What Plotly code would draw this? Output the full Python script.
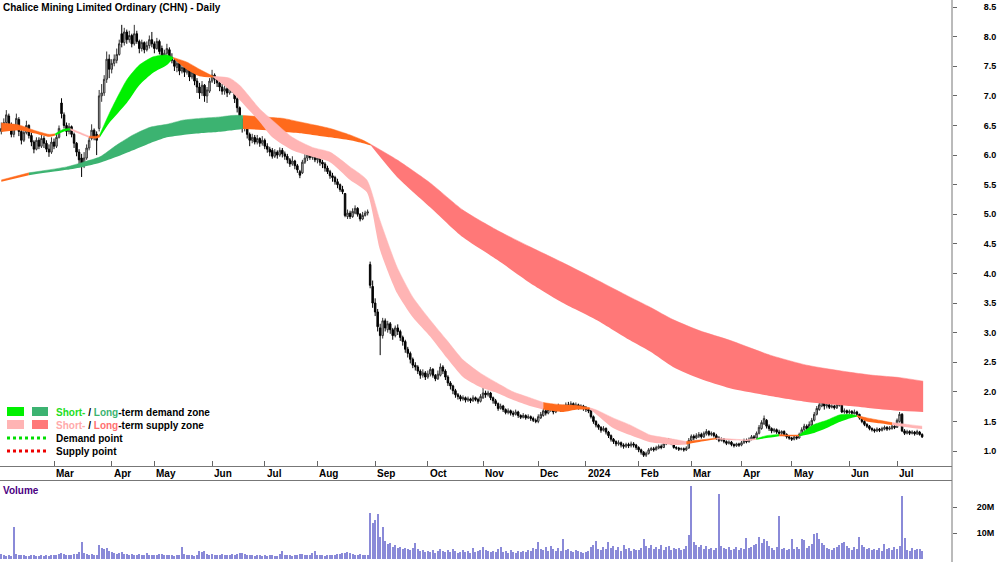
import numpy as np
import pandas as pd
import plotly.graph_objects as go

# ---------------- calendar (ASX trading sessions) ----------------
HOLIDAYS = ["2023-04-07", "2023-04-10", "2023-04-25", "2023-06-12", "2023-12-25",
            "2023-12-26", "2024-01-01", "2024-01-26", "2024-03-29", "2024-04-01",
            "2024-04-25", "2024-06-10"]
SESSIONS = pd.bdate_range("2023-01-31", "2024-07-15", freq="C", holidays=HOLIDAYS)

# ---------------- daily prices (A$) ----------------
OPEN = [
    6.40,6.45,6.55,6.66,6.50,6.35,6.48,6.60,6.40,6.25,6.38,6.50,6.33,6.22,6.10,6.25,6.15,6.28,6.20,6.10,6.05,
    6.22,6.15,6.30,6.88,6.68,6.50,6.40,6.48,6.35,6.20,6.05,5.95,5.82,5.95,6.12,6.28,6.42,6.35,6.45,7.00,7.05,7.28,7.62,
    7.45,7.55,7.60,7.70,8.05,7.90,8.08,7.95,8.02,7.88,8.05,7.92,7.80,7.90,7.78,7.85,7.95,
    7.88,7.80,7.92,7.80,7.62,7.72,7.78,7.65,7.60,7.48,7.55,7.42,7.48,7.40,7.45,7.32,7.40,7.25,7.15,7.05,7.18,7.00,7.08,
    7.25,7.35,7.28,7.22,7.15,7.08,7.12,7.05,7.18,7.10,6.95,6.80,6.60,6.45,6.52,6.35,6.25,6.30,6.22,6.28,6.20,
    6.25,6.15,6.10,6.08,5.98,6.05,6.00,6.08,6.02,5.98,5.92,5.85,5.90,5.82,5.72,5.70,5.88,5.95,6.00,5.96,6.02,
    5.92,5.95,5.88,5.85,5.78,5.72,5.65,5.62,5.55,5.50,5.42,5.35,4.96,5.02,4.96,5.02,5.10,5.00,4.92,4.98,5.02,4.15,3.78,
    3.50,3.35,3.08,2.95,3.20,3.05,3.15,3.05,2.95,3.08,3.02,2.92,2.85,2.72,2.65,2.55,2.45,2.42,2.35,2.28,2.32,
    2.25,2.30,2.38,2.28,2.22,2.28,2.42,2.35,2.25,2.15,2.10,2.02,1.95,1.92,1.88,1.90,1.86,1.88,1.85,1.90,1.87,1.84,
    1.90,1.98,1.95,1.98,1.90,1.85,1.80,1.72,1.76,1.70,1.65,1.68,1.64,1.62,1.66,1.60,1.57,1.60,1.56,1.58,1.55,1.52,
    1.50,1.56,1.60,1.68,1.64,1.70,1.74,1.66,1.72,1.75,1.70,1.74,1.78,1.76,1.80,1.75,1.78,1.74,1.76,
    1.72,1.70,1.68,1.58,1.50,1.44,1.40,1.35,1.38,1.32,1.26,1.20,1.16,1.12,1.14,1.10,1.08,1.11,1.09,1.12,1.10,
    1.06,1.02,0.98,0.93,0.96,1.02,1.04,1.02,1.05,1.08,1.06,1.12,1.14,1.18,1.17,1.06,1.05,1.03,1.04,1.02,1.05,
    1.18,1.25,1.22,1.25,1.28,1.24,1.29,1.33,1.28,1.30,1.26,1.22,1.18,1.20,1.16,1.13,1.15,1.11,1.09,1.12,
    1.10,1.14,1.18,1.16,1.20,1.24,1.22,1.30,1.38,1.46,1.52,1.42,1.38,1.34,1.36,1.32,1.30,1.33,1.28,1.24,
    1.22,1.20,1.24,1.22,1.28,1.36,1.42,1.38,1.44,1.52,1.62,1.70,1.76,1.85,1.76,1.78,1.74,1.76,1.73,1.77,1.80,1.66,1.68,
    1.65,1.67,1.63,1.66,1.62,1.56,1.50,1.45,1.42,1.38,1.36,1.34,1.37,1.35,1.37,1.40,1.37,1.38,1.42,
    1.40,1.50,1.62,1.34,1.30,1.33,1.30,1.32,1.29,1.32,1.28,
]
HIGH = [
    6.55,6.62,6.76,6.70,6.55,6.52,6.70,6.64,6.45,6.45,6.58,6.52,6.38,6.25,6.30,6.30,6.35,6.32,6.25,6.18,6.30,
    6.28,6.35,6.50,6.96,6.72,6.55,6.54,6.50,6.38,6.22,6.10,6.02,6.05,6.18,6.30,6.52,6.45,6.40,7.10,7.20,7.35,7.75,7.70,
    7.62,7.70,7.80,7.95,8.20,8.15,8.12,8.10,8.05,8.20,8.10,7.95,7.95,7.92,7.92,8.02,8.08,
    7.92,7.98,7.95,7.85,7.78,7.88,7.82,7.72,7.64,7.62,7.58,7.55,7.52,7.52,7.48,7.50,7.42,7.30,7.22,7.25,7.20,7.15,7.30,
    7.44,7.38,7.32,7.25,7.20,7.18,7.15,7.25,7.25,7.12,6.98,6.82,6.62,6.60,6.55,6.38,6.36,6.34,6.34,6.30,6.32,
    6.28,6.20,6.14,6.12,6.10,6.08,6.13,6.12,6.06,6.02,5.95,5.98,5.92,5.85,5.75,5.92,6.02,6.05,6.08,6.06,6.04,
    6.00,5.98,5.92,5.88,5.82,5.75,5.70,5.65,5.60,5.52,5.48,5.36,5.08,5.06,5.10,5.15,5.12,5.02,5.04,5.06,5.08,4.20,3.88,
    3.58,3.40,3.15,3.25,3.24,3.20,3.18,3.08,3.12,3.14,3.05,2.95,2.88,2.76,2.68,2.58,2.50,2.45,2.38,2.38,2.35,
    2.36,2.42,2.40,2.30,2.36,2.48,2.45,2.38,2.28,2.18,2.12,2.05,1.98,1.95,1.94,1.92,1.92,1.90,1.94,1.92,1.90,1.96,
    2.08,2.02,2.02,2.00,1.92,1.88,1.82,1.80,1.78,1.72,1.72,1.70,1.68,1.70,1.68,1.62,1.64,1.62,1.62,1.60,1.58,1.55,
    1.62,1.66,1.72,1.72,1.74,1.78,1.76,1.76,1.80,1.78,1.78,1.82,1.83,1.84,1.82,1.82,1.80,1.79,1.78,
    1.76,1.73,1.70,1.60,1.52,1.46,1.42,1.42,1.40,1.34,1.28,1.22,1.18,1.18,1.16,1.13,1.14,1.14,1.16,1.15,1.12,
    1.08,1.04,1.00,0.99,1.05,1.07,1.07,1.09,1.11,1.11,1.15,1.19,1.22,1.20,1.19,1.08,1.07,1.06,1.06,1.08,1.22,
    1.28,1.28,1.30,1.32,1.31,1.33,1.37,1.35,1.33,1.32,1.29,1.25,1.23,1.22,1.18,1.18,1.17,1.13,1.14,1.14,
    1.17,1.21,1.21,1.23,1.27,1.27,1.33,1.44,1.52,1.60,1.54,1.45,1.40,1.39,1.38,1.36,1.35,1.35,1.30,1.27,
    1.24,1.27,1.26,1.31,1.40,1.46,1.45,1.50,1.56,1.66,1.76,1.82,1.95,1.88,1.82,1.80,1.79,1.78,1.82,1.90,1.82,1.72,1.70,
    1.70,1.69,1.70,1.68,1.63,1.57,1.52,1.47,1.44,1.40,1.38,1.40,1.39,1.41,1.43,1.42,1.42,1.45,1.44,
    1.55,1.66,1.64,1.37,1.36,1.35,1.35,1.34,1.36,1.34,1.30,
]
LOW = [
    6.35,6.42,6.50,6.45,6.30,6.30,6.45,6.32,6.18,6.22,6.35,6.28,6.15,6.03,6.08,6.10,6.12,6.12,6.05,5.97,6.02,
    6.10,6.12,6.28,6.62,6.45,6.32,6.35,6.30,6.12,5.98,5.85,5.63,5.78,5.92,6.08,6.25,6.25,6.00,6.40,6.90,7.00,7.22,7.30,
    7.38,7.50,7.55,7.68,7.82,7.85,7.88,7.90,7.82,7.85,7.88,7.72,7.75,7.72,7.75,7.80,7.82,
    7.72,7.78,7.70,7.58,7.58,7.68,7.60,7.55,7.42,7.40,7.35,7.38,7.32,7.36,7.25,7.28,7.18,7.05,6.95,7.00,6.90,6.88,7.05,
    7.22,7.20,7.15,7.08,7.02,7.02,6.98,7.02,7.05,6.88,6.72,6.52,6.38,6.40,6.28,6.15,6.20,6.18,6.18,6.14,6.16,
    6.10,6.04,5.98,5.94,5.95,5.94,5.97,5.96,5.92,5.86,5.80,5.82,5.76,5.70,5.61,5.68,5.85,5.90,5.92,5.92,5.88,
    5.86,5.82,5.78,5.72,5.68,5.60,5.55,5.50,5.44,5.38,5.34,4.95,4.92,4.92,4.94,5.00,4.96,4.88,4.90,4.96,4.98,3.75,3.42,
    3.28,3.02,2.62,2.90,3.02,3.00,2.98,2.88,2.92,2.96,2.86,2.78,2.66,2.58,2.48,2.40,2.36,2.30,2.22,2.24,2.20,
    2.22,2.26,2.24,2.18,2.20,2.26,2.30,2.20,2.10,2.04,1.96,1.90,1.87,1.84,1.85,1.82,1.83,1.81,1.83,1.84,1.80,1.82,
    1.88,1.90,1.92,1.86,1.80,1.76,1.68,1.70,1.66,1.62,1.62,1.60,1.58,1.60,1.56,1.54,1.55,1.53,1.54,1.51,1.49,1.47,
    1.47,1.54,1.58,1.60,1.62,1.66,1.62,1.64,1.70,1.66,1.68,1.72,1.72,1.74,1.70,1.73,1.70,1.72,1.68,
    1.66,1.64,1.55,1.46,1.40,1.36,1.31,1.33,1.28,1.22,1.16,1.12,1.08,1.09,1.06,1.04,1.05,1.05,1.06,1.06,1.02,
    0.98,0.94,0.90,0.90,0.94,1.00,0.99,1.01,1.03,1.03,1.05,1.10,1.12,1.10,1.04,1.02,1.00,1.01,0.99,1.00,1.04,
    1.15,1.18,1.20,1.22,1.21,1.22,1.26,1.25,1.25,1.23,1.19,1.15,1.16,1.13,1.10,1.11,1.08,1.06,1.07,1.07,
    1.08,1.12,1.13,1.14,1.18,1.19,1.20,1.28,1.36,1.44,1.38,1.34,1.30,1.31,1.29,1.26,1.27,1.25,1.21,1.19,
    1.17,1.18,1.19,1.21,1.26,1.33,1.35,1.36,1.42,1.50,1.60,1.68,1.74,1.70,1.72,1.71,1.72,1.70,1.71,1.75,1.64,1.63,1.62,
    1.62,1.61,1.62,1.59,1.53,1.47,1.42,1.39,1.35,1.33,1.31,1.32,1.32,1.33,1.35,1.34,1.35,1.36,1.37,
    1.39,1.48,1.32,1.27,1.28,1.27,1.28,1.26,1.27,1.26,1.22,
]
CLOSE = [
    6.45,6.55,6.68,6.50,6.35,6.48,6.62,6.40,6.25,6.38,6.50,6.33,6.22,6.10,6.25,6.15,6.28,6.20,6.10,6.05,6.22,
    6.15,6.30,6.45,6.70,6.50,6.40,6.48,6.35,6.20,6.05,5.92,5.82,5.95,6.12,6.25,6.42,6.30,6.25,7.00,7.05,7.28,7.62,7.45,
    7.55,7.62,7.70,7.88,7.90,8.08,7.95,8.02,7.88,8.05,7.92,7.80,7.90,7.78,7.85,7.95,7.88,
    7.80,7.92,7.75,7.62,7.72,7.80,7.65,7.60,7.50,7.55,7.42,7.48,7.40,7.46,7.32,7.40,7.25,7.15,7.05,7.18,7.00,7.10,7.25,
    7.35,7.28,7.22,7.15,7.08,7.12,7.05,7.18,7.10,6.95,6.80,6.60,6.45,6.52,6.35,6.25,6.30,6.22,6.28,6.20,6.25,
    6.15,6.10,6.05,5.98,6.05,6.00,6.08,6.02,5.98,5.92,5.85,5.90,5.82,5.75,5.66,5.88,5.95,6.00,5.96,6.02,5.92,
    5.95,5.88,5.85,5.78,5.72,5.65,5.62,5.55,5.50,5.42,5.38,4.98,5.02,4.96,5.05,5.10,5.00,4.92,4.98,5.02,5.04,3.80,3.50,
    3.35,3.10,2.95,3.20,3.08,3.15,3.05,2.95,3.08,3.02,2.92,2.85,2.72,2.65,2.55,2.45,2.42,2.35,2.28,2.32,2.25,
    2.30,2.38,2.28,2.22,2.30,2.42,2.35,2.25,2.15,2.10,2.02,1.95,1.92,1.88,1.90,1.86,1.88,1.85,1.90,1.87,1.84,1.92,
    1.98,1.95,1.98,1.90,1.85,1.80,1.72,1.76,1.70,1.65,1.68,1.64,1.62,1.66,1.60,1.57,1.60,1.56,1.58,1.55,1.52,1.50,
    1.58,1.62,1.68,1.64,1.70,1.74,1.66,1.72,1.75,1.70,1.74,1.78,1.76,1.80,1.75,1.78,1.74,1.76,1.72,
    1.70,1.68,1.58,1.50,1.44,1.40,1.35,1.38,1.32,1.26,1.20,1.16,1.12,1.14,1.10,1.08,1.11,1.09,1.12,1.10,1.06,
    1.02,0.98,0.93,0.96,1.02,1.04,1.02,1.06,1.08,1.06,1.12,1.15,1.18,1.14,1.06,1.05,1.03,1.04,1.02,1.05,1.18,
    1.25,1.22,1.26,1.28,1.24,1.30,1.33,1.28,1.30,1.26,1.22,1.18,1.20,1.16,1.13,1.15,1.11,1.09,1.12,1.10,
    1.14,1.18,1.16,1.20,1.24,1.22,1.30,1.40,1.48,1.55,1.42,1.38,1.34,1.36,1.32,1.30,1.33,1.28,1.24,1.22,
    1.20,1.24,1.22,1.28,1.36,1.42,1.38,1.45,1.52,1.62,1.72,1.78,1.85,1.76,1.78,1.74,1.76,1.73,1.78,1.82,1.66,1.68,1.65,
    1.67,1.64,1.66,1.62,1.56,1.50,1.45,1.42,1.38,1.36,1.34,1.37,1.35,1.38,1.40,1.37,1.39,1.42,1.40,
    1.52,1.62,1.34,1.30,1.33,1.30,1.32,1.29,1.33,1.28,1.24,
]
# daily volume, millions of shares
VOLUME_M = [
    1.8,1.5,1.2,1.6,1.3,12.3,1.8,1.5,1.4,1.6,1.3,1.2,1.5,1.4,1.1,1.3,1.6,1.2,1.4,1.3,1.5,
    1.4,1.6,1.8,2.5,1.9,1.5,1.4,1.6,1.8,2.0,2.6,6.6,2.4,1.8,1.6,2.0,1.7,1.5,5.4,4.2,3.8,4.2,3.0,
    2.6,2.2,2.0,2.4,2.8,2.0,1.8,1.6,2.0,1.7,1.5,1.8,1.6,1.4,2.4,1.7,1.5,
    1.6,1.5,1.8,2.0,1.6,1.4,1.7,1.5,1.3,1.6,1.4,4.7,1.8,1.5,1.4,1.6,1.3,1.5,2.9,2.6,2.9,1.8,1.6,
    1.8,1.5,1.4,1.6,1.8,1.5,1.4,1.6,2.0,1.7,1.8,2.2,2.4,1.8,1.6,1.4,1.5,1.3,1.6,1.4,1.3,
    1.5,1.3,1.4,1.6,1.3,1.2,2.0,2.9,1.6,1.4,1.5,1.3,1.4,1.6,2.0,1.8,1.5,1.4,1.6,2.2,3.2,
    1.6,1.4,1.5,1.3,1.6,1.4,1.7,1.5,1.8,2.0,2.2,2.5,2.8,2.2,1.9,1.6,1.5,1.8,1.6,1.7,1.5,17.8,14.0,
    15.0,17.5,8.6,12.4,6.8,5.6,6.2,4.8,5.4,4.2,4.6,3.8,4.2,4.0,3.6,4.4,6.0,3.8,3.0,3.4,2.8,
    3.2,2.8,3.6,2.5,3.0,4.0,3.2,2.6,3.4,2.8,3.8,3.0,2.4,2.8,3.5,2.6,3.0,2.4,4.2,2.8,3.0,3.6,
    4.6,3.5,3.0,2.6,3.2,2.8,4.0,4.7,2.6,3.0,2.5,3.6,2.8,2.4,3.0,2.6,3.2,2.8,3.6,3.0,4.2,3.8,
    6.7,4.0,3.5,4.8,3.2,5.0,3.8,3.0,4.2,3.0,7.6,3.5,4.0,3.2,2.8,3.6,3.0,2.6,2.2,
    2.8,3.2,4.5,5.2,7.0,4.0,3.6,4.8,3.8,6.6,4.2,5.0,3.6,4.6,3.2,5.4,3.8,4.4,3.2,4.0,3.4,
    3.6,4.2,7.8,5.0,4.4,5.2,3.8,4.6,4.0,5.4,3.6,4.8,5.0,3.4,4.2,3.8,4.4,3.6,4.0,5.0,9.2,
    28.0,6.4,5.5,4.6,5.4,4.0,5.0,3.8,4.4,3.6,4.2,25.0,5.0,4.2,3.8,4.6,3.4,4.0,4.8,3.6,
    4.2,3.8,8.0,4.4,4.8,5.2,5.6,8.3,6.0,7.6,6.8,5.0,4.2,3.6,4.6,16.7,3.8,4.4,3.4,4.0,
    7.6,4.0,4.6,3.8,7.6,7.2,4.4,5.0,5.6,9.6,10.1,7.8,6.0,5.2,4.4,4.0,3.6,4.2,4.8,5.4,6.2,6.7,5.0,
    4.4,3.6,4.8,4.0,8.3,5.2,4.6,3.8,4.2,3.4,4.0,3.6,4.4,3.2,5.8,3.8,4.2,3.6,4.8,
    3.8,5.0,24.4,8.0,3.6,3.0,4.2,3.4,3.8,4.0,3.2,
]

# ---------------- trend ribbons (session number, upper edge, lower edge) ----------------
SHORT_DAY = [0, 7, 13, 19, 21.5, 25, 27.5, 31, 35, 38, 39.3, 43, 50, 55, 60.5, 66, 68.5, 74, 79, 84.5,
             91, 95, 103, 108, 116, 124, 131, 139, 145.7, 150.9, 157.7, 164, 171, 177.6, 184, 190.8,
             197.6, 204, 210.7, 216, 219, 224, 229.5, 234.6, 237.4, 243.8, 250.6, 258.6, 262.5, 268,
             273, 279, 285, 292, 297, 301, 305, 310, 314, 318, 323.5, 329, 334, 338, 341, 345, 350,
             355, 361, 367]
SHORT_TOP = [6.54, 6.51, 6.42, 6.35, 6.36, 6.44, 6.45, 6.39, 6.32, 6.32, 6.35, 6.70, 7.27, 7.52, 7.66,
             7.69, 7.65, 7.57, 7.45, 7.33, 7.30, 7.18, 6.78, 6.59, 6.30, 6.13, 6.05, 5.80, 5.58, 4.90,
             4.11, 3.60, 3.21, 2.87, 2.54, 2.32, 2.15, 2.00, 1.90, 1.82, 1.80, 1.78, 1.77, 1.73, 1.69,
             1.56, 1.44, 1.27, 1.24, 1.20, 1.16, 1.19, 1.22, 1.20, 1.19, 1.21, 1.26, 1.28, 1.27, 1.27,
             1.44, 1.52, 1.61, 1.62, 1.60, 1.56, 1.52, 1.48, 1.45, 1.42]
SHORT_BOT = [6.39, 6.42, 6.37, 6.31, 6.33, 6.40, 6.42, 6.36, 6.29, 6.28, 6.30, 6.54, 6.88, 7.18, 7.39,
             7.52, 7.63, 7.44, 7.33, 7.31, 7.10, 6.93, 6.56, 6.30, 6.08, 5.97, 5.88, 5.58, 5.37, 4.40,
             3.67, 3.26, 2.93, 2.57, 2.25, 2.08, 1.98, 1.86, 1.76, 1.70, 1.68, 1.66, 1.70, 1.70, 1.61,
             1.39, 1.27, 1.15, 1.13, 1.10, 1.11, 1.16, 1.20, 1.18, 1.17, 1.19, 1.22, 1.25, 1.25, 1.25,
             1.30, 1.39, 1.49, 1.55, 1.58, 1.50, 1.47, 1.44, 1.40, 1.37]
SHORT_ZONES = [(0, 21.5, "transition"), (21.5, 27.5, "short_demand"), (27.5, 35, "short_supply"),
               (35, 39.3, "transition"), (39.3, 68.5, "short_demand"), (68.5, 84.5, "transition"),
               (84.5, 216, "short_supply"), (216, 234.6, "transition"), (234.6, 273, "short_supply"),
               (273, 285, "transition"), (285, 301, "short_supply"), (301, 310, "short_demand"),
               (310, 318, "transition"), (318, 341, "short_demand"), (341, 355, "transition"),
               (355, 367, "short_supply")]

LONG_DAY = [0, 11, 26, 32.6, 39.3, 46, 52.5, 59.3, 66, 72.4, 79.2, 86, 92.3, 96.3, 106, 112.3, 119,
            131, 139, 144.2, 147.3, 157.7, 170.9, 184, 197.6, 210.7, 223.9, 237.4, 250.6, 258.6,
            267.7, 278.5, 290.4, 306.4, 321.1, 338.3, 347.4, 358.2, 367.4]
LONG_TOP = [5.58, 5.70, 5.80, 5.88, 5.97, 6.17, 6.34, 6.47, 6.52, 6.59, 6.62, 6.64, 6.67, 6.67, 6.64,
            6.62, 6.56, 6.45, 6.34, 6.25, 6.18, 5.92, 5.53, 5.07, 4.73, 4.45, 4.18, 3.89, 3.60, 3.43,
            3.22, 3.03, 2.87, 2.62, 2.45, 2.33, 2.28, 2.24, 2.18]
LONG_BOT = [5.55, 5.66, 5.75, 5.80, 5.87, 5.97, 6.08, 6.20, 6.30, 6.34, 6.37, 6.39, 6.42, 6.44, 6.42,
            6.39, 6.37, 6.30, 6.25, 6.20, 6.16, 5.63, 5.12, 4.61, 4.23, 3.84, 3.50, 3.21, 2.87, 2.68,
            2.42, 2.22, 2.06, 1.93, 1.83, 1.76, 1.72, 1.68, 1.66]
LONG_ZONES = [(0, 11, "transition"), (11, 96.3, "long_demand"), (96.3, 147.3, "transition"),
              (147.3, 367.4, "long_supply")]

ZONE_COLOURS = {"short_demand": "#00F000", "long_demand": "#3CB371", "short_supply": "#FFB4B4",
                "long_supply": "#FF7878", "transition": "#FF6A1C"}

MONTH_LABELS = {1: "2024", 2: "Feb", 3: "Mar", 4: "Apr", 5: "May", 6: "Jun", 7: "Jul", 8: "Aug",
                9: "Sep", 10: "Oct", 11: "Nov", 12: "Dec"}
FIRST_LABELLED_MONTH = pd.Timestamp("2023-03-01")

# ---------------- build ----------------
n = len(CLOSE)
for name, arr in [("OPEN", OPEN), ("HIGH", HIGH), ("LOW", LOW), ("VOLUME_M", VOLUME_M)]:
    if len(arr) != n:
        raise SystemExit(f"{name} has {len(arr)} values, CLOSE has {n}")
sessions = SESSIONS[:n]
xi = np.arange(n)

W, H = 1000, 562
PLOT_W = 952
def px_x(p):
    return p / PLOT_W
def px_y(p):
    return 1 - p / H

fig = go.Figure()

def add_band(days, top, bot, zones):
    days = np.asarray(days, float)
    top = np.asarray(top, float)
    bot = np.asarray(bot, float)
    for a, b, zone in zones:
        m = (days >= a - 1e-6) & (days <= b + 1e-6)
        col = ZONE_COLOURS[zone]
        fig.add_trace(go.Scatter(x=days[m], y=bot[m], mode="lines",
                                 line=dict(width=0, shape="spline", smoothing=0.6, color=col),
                                 hoverinfo="skip", showlegend=False))
        fig.add_trace(go.Scatter(x=days[m], y=top[m], mode="lines", fill="tonexty",
                                 fillcolor=col,
                                 line=dict(width=0.5, shape="spline", smoothing=0.6, color=col),
                                 hoverinfo="skip", showlegend=False))

add_band(LONG_DAY, LONG_TOP, LONG_BOT, LONG_ZONES)
add_band(SHORT_DAY, SHORT_TOP, SHORT_BOT, SHORT_ZONES)

fig.add_trace(go.Candlestick(
    x=xi, open=OPEN, high=HIGH, low=LOW, close=CLOSE,
    increasing=dict(line=dict(color="#333333", width=1), fillcolor="#cfcfcf"),
    decreasing=dict(line=dict(color="#000000", width=1), fillcolor="#000000"),
    whiskerwidth=0, showlegend=False, xaxis="x", yaxis="y"))

fig.add_trace(go.Bar(x=xi, y=VOLUME_M, marker=dict(color="#8a8ad8", line=dict(width=0)),
                     width=0.45, xaxis="x2", yaxis="y2", showlegend=False))

# month ticks
month_start = []
prev = None
for k, d in enumerate(sessions):
    key = (d.year, d.month)
    if key != prev:
        month_start.append((k, d))
        prev = key
tick_idx = [k for k, d in month_start if d >= FIRST_LABELLED_MONTH]

XR = [-0.52, 378.9]
fig.update_layout(
    width=W, height=H, margin=dict(l=0, r=W - PLOT_W, t=0, b=0),
    paper_bgcolor="white", plot_bgcolor="white", showlegend=False,
    font=dict(family="Liberation Sans, Arial, sans-serif", color="#000000"),
    bargap=0, boxgap=0.15,
    xaxis=dict(domain=[0, 1], range=XR, anchor="y", tickvals=tick_idx, ticks="inside", ticklen=5,
               tickcolor="#666666", showticklabels=False, showline=True, linecolor="#777777",
               showgrid=False, zeroline=False, rangeslider=dict(visible=False), fixedrange=True),
    xaxis2=dict(domain=[0, 1], range=XR, anchor="y2", side="top", showticklabels=False,
                ticks="", showline=True, linecolor="#777777", showgrid=False, zeroline=False),
    yaxis=dict(domain=[96 / H, 1], range=[0.747, 8.62], side="right", anchor="x",
               tickvals=[1.0 + 0.5 * k for k in range(16)],
               ticktext=[f"{1.0 + 0.5 * k:.1f}" for k in range(16)],
               ticks="outside", ticklen=4, tickcolor="#666666", showline=False, showgrid=False,
               zeroline=False, ticklabelstandoff=25,
               tickfont=dict(size=9, weight="bold", color="#000000")),
    yaxis2=dict(domain=[0, 81 / H], range=[-1.15, 30], side="right", anchor="x2",
                tickvals=[10, 20], ticktext=["10M", "20M"], ticks="outside", ticklen=4,
                tickcolor="#666666", showline=False, showgrid=False, zeroline=False,
                ticklabelstandoff=18, tickfont=dict(size=9, weight="bold", color="#000000")),
)

shapes = [
    dict(type="line", xref="paper", yref="paper", x0=1, x1=1, y0=0, y1=1,
         line=dict(color="#777777", width=1)),
]
# legend swatches
sw = [(7, 24, 407, 416, ZONE_COLOURS["short_demand"]), (32, 48, 407, 416, ZONE_COLOURS["long_demand"]),
      (7, 24, 420, 429, ZONE_COLOURS["short_supply"]), (32, 48, 420, 429, ZONE_COLOURS["long_supply"])]
for x0, x1, y0, y1, c in sw:
    shapes.append(dict(type="rect", xref="paper", yref="paper", x0=px_x(x0), x1=px_x(x1),
                       y0=px_y(y1), y1=px_y(y0), fillcolor=c, line=dict(width=0)))
for yy, c in [(438, "#00DD00"), (451, "#EE0000")]:
    shapes.append(dict(type="line", xref="paper", yref="paper", x0=px_x(7), x1=px_x(46),
                       y0=px_y(yy), y1=px_y(yy), line=dict(color=c, width=3, dash="dot")))
fig.update_layout(shapes=shapes)

ann = []
ann.append(dict(text="<b>Chalice Mining Limited Ordinary (CHN) - Daily</b>", xref="paper", yref="paper",
                x=px_x(1), y=px_y(8), xanchor="left", yanchor="middle", showarrow=False,
                font=dict(size=10, color="#000000")))
leg_rows = [
    (412, "<b><span style='color:#22DD22'>Short-</span> / <span style='color:#3CB371'>Long</span>-term demand zone</b>"),
    (425, "<b><span style='color:#FFAAAA'>Short-</span> / <span style='color:#FF7070'>Long</span>-term supply zone</b>"),
    (438, "<b>Demand point</b>"),
    (451, "<b>Supply point</b>"),
]
for yy, t in leg_rows:
    ann.append(dict(text=t, xref="paper", yref="paper", x=px_x(54), y=px_y(yy), xanchor="left",
                    yanchor="middle", showarrow=False, font=dict(size=10, color="#000000")))
for k, d in month_start:
    if d < FIRST_LABELLED_MONTH:
        continue
    ann.append(dict(text=f"<b>{MONTH_LABELS[d.month]}</b>", xref="x", yref="paper", x=k, y=px_y(474),
                    xanchor="left", yanchor="middle", xshift=0, showarrow=False,
                    font=dict(size=10, color="#000000")))
ann.append(dict(text="<b>Volume</b>", xref="paper", yref="paper", x=px_x(1), y=px_y(490),
                xanchor="left", yanchor="middle", showarrow=False, font=dict(size=10, color="#4B0082")))
fig.update_layout(annotations=ann)

fig.write_html("out.html")
